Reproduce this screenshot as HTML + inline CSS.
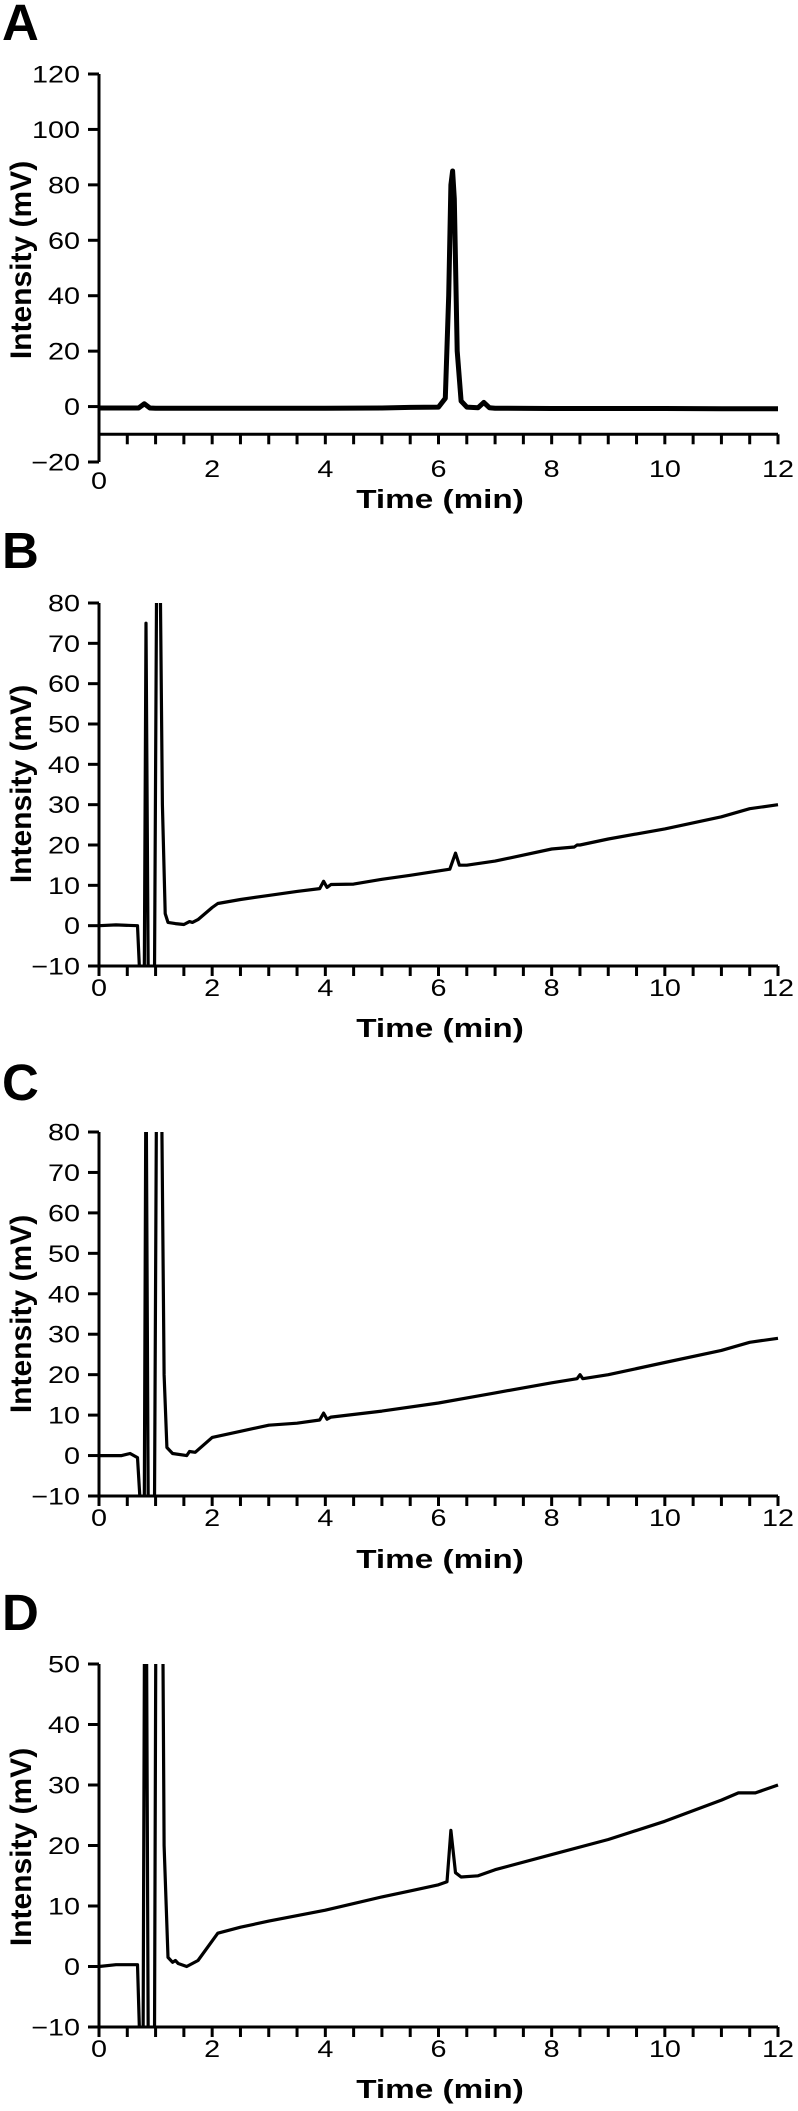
<!DOCTYPE html>
<html><head><meta charset="utf-8"><style>
html,body{margin:0;padding:0;background:#fff;}
svg{display:block;}
text{font-family:"Liberation Sans",Arial,sans-serif;fill:#000;}
</style></head><body>
<svg id="fig" width="798" height="2111" viewBox="0 0 798 2111" xmlns="http://www.w3.org/2000/svg"></svg>
<script>
// Panel A data (time min, intensity mV)
const timesA = [0,0.7,0.8,0.9,1.0,2,3,4,5,5.5,6.0,6.12,6.18,6.22,6.25,6.28,6.33,6.4,6.5,6.7,6.8,6.9,7,8,9,10,11,12];
const valuesA = [-0.5,-0.5,1,-0.5,-0.6,-0.6,-0.6,-0.6,-0.5,-0.3,-0.2,3,40,80,85,75,20,2,-0.2,-0.4,1.5,-0.4,-0.6,-0.7,-0.7,-0.7,-0.8,-0.8];
// Panel B data
const timesB = [0,0.3,0.68,0.72,0.8,0.83,0.87,0.98,1.02,1.08,1.12,1.17,1.22,1.35,1.5,1.6,1.65,1.75,2,2.1,2.5,3,3.5,3.9,3.97,4.03,4.1,4.5,5,5.5,6.2,6.3,6.37,6.5,7,8,8.4,8.45,8.5,9,10,11,11.5,12];
const valuesB = [0,0.2,0,-12,-12,75,-12,-12,90,90,30,3,0.8,0.5,0.3,1,0.8,1.5,4.5,5.5,6.5,7.5,8.5,9.2,11,9.5,10.2,10.3,11.5,12.5,14,18,15,15,16,19,19.5,20,20,21.5,24,27,29,30];
// Panel C data
const timesC = [0,0.4,0.55,0.68,0.73,0.8,0.83,0.87,0.98,1.02,1.1,1.15,1.2,1.3,1.55,1.6,1.7,2,2.5,3,3.5,3.9,3.97,4.03,4.1,5,6,7,8,8.45,8.5,8.55,9,10,11,11.5,12];
const valuesC = [0,0,0.5,-0.5,-12,-12,100,-12,-12,100,100,20,2,0.5,0,1,0.8,4.5,6,7.5,8,8.8,10.5,9,9.5,11,13,15.5,18,19,20,19,20,23,26,28,29];
// Panel D data
const timesD = [0,0.3,0.68,0.72,0.78,0.82,0.87,0.98,1.02,1.1,1.15,1.22,1.3,1.35,1.4,1.55,1.75,2.1,2.5,3,4,5,5.5,6,6.15,6.22,6.3,6.4,6.7,7,8,9,10,11,11.3,11.6,12];
const valuesD = [0,0.3,0.3,-12,-12,100,-12,-12,100,100,20,1.5,0.7,1,0.5,0,1,5.5,6.5,7.5,9.3,11.5,12.5,13.5,14,22.5,15.5,14.8,15,16,18.5,21,24,27.5,28.7,28.7,30];
// Tick labels
const xTickLabels = ["0","2","4","6","8","10","12"];
const yTicksA = [-20,0,20,40,60,80,100,120];
const yTicksBC = [-10,0,10,20,30,40,50,60,70,80];
const yTicksD = [-10,0,10,20,30,40,50];

const NS = "http://www.w3.org/2000/svg";
const svg = document.getElementById('fig');
const X0 = 99, X1 = 778;
function xs(t){ return X0 + (t/12)*(X1-X0); }
function mk(tag, attrs, parent){ const e=document.createElementNS(NS,tag); for(const k in attrs) e.setAttribute(k,attrs[k]); (parent||svg).appendChild(e); return e; }

const panels = [
 {id:'a', letter:'A', letterY:40, times:timesA, vals:valuesA, yTicks:yTicksA, ymin:-20, ymax:120, yTop:74, yBot:462, axisVal:-10, lw:5, tickLblY:477, zeroLblY:489, titleY:508, ytCenter:260},
 {id:'b', letter:'B', letterY:568, times:timesB, vals:valuesB, yTicks:yTicksBC, ymin:-10, ymax:80, yTop:603, yBot:966, axisVal:-10, lw:3.2, tickLblY:996, zeroLblY:996, titleY:1037, ytCenter:784},
 {id:'c', letter:'C', letterY:1100, times:timesC, vals:valuesC, yTicks:yTicksBC, ymin:-10, ymax:80, yTop:1132, yBot:1496, axisVal:-10, lw:3.2, tickLblY:1526, zeroLblY:1526, titleY:1568, ytCenter:1314},
 {id:'d', letter:'D', letterY:1630, times:timesD, vals:valuesD, yTicks:yTicksD, ymin:-10, ymax:50, yTop:1664, yBot:2027, axisVal:-10, lw:3.2, tickLblY:2057, zeroLblY:2057, titleY:2098, ytCenter:1847}
];

panels.forEach(p=>{
  const g = mk('g',{});
  
  
  const ys = v => p.yBot - (v-p.ymin)/(p.ymax-p.ymin)*(p.yBot-p.yTop);
  const axisY = ys(p.axisVal);
  const L = mk('text',{x:0,y:0,'font-size':51,'font-weight':'bold',transform:`translate(2,${p.letterY})`},g);
  L.textContent = p.letter;
  
  
  const cp = mk('clipPath',{id:'clip'+p.id},g);
  mk('rect',{x:X0,y:p.yTop,width:X1-X0+4,height:axisY-p.yTop},cp);
  const pts = p.times.map((t,i)=>xs(t).toFixed(1)+','+ys(p.vals[i]).toFixed(1)).join(' ');
  const line = mk('polyline',{points:pts,fill:'none',stroke:'#000','stroke-width':p.lw,'stroke-linejoin':'round','clip-path':`url(#clip${p.id})`},g);
  
  
  const ya = mk('line',{x1:X0,y1:p.yTop,x2:X0,y2:p.yBot,stroke:'#000','stroke-width':3},g);
  
  
  p.yTicks.forEach(v=>{
    const y = ys(v);
    mk('line',{x1:88,y1:y,x2:X0,y2:y,stroke:'#000','stroke-width':3},g);
    const t = mk('text',{x:0,y:0,'font-size':24,'text-anchor':'end',transform:`translate(80,${y+8.5}) scale(1.2,1)`},g);
    t.textContent = v<0 ? '\u2212'+Math.abs(v) : String(v);
    
    
  });
  const xa = mk('line',{x1:X0-1.5,y1:axisY,x2:X1,y2:axisY,stroke:'#000','stroke-width':3},g);
  
  
  for(let i=0;i<=24;i++){
    const x = xs(i*0.5);
    mk('line',{x1:x,y1:axisY,x2:x,y2:axisY+10,stroke:'#000','stroke-width':3},g);
  }
  xTickLabels.forEach((s,i)=>{
    const x = xs(i*2);
    const yy = i===0 ? p.zeroLblY : p.tickLblY;
    const t = mk('text',{x:0,y:0,'font-size':24,'text-anchor':'middle',transform:`translate(${x},${yy}) scale(1.2,1)`},g);
    t.textContent = s;
    
    
  });
  const xt = mk('text',{x:0,y:0,'font-size':26,'font-weight':'bold','text-anchor':'middle',transform:`translate(440,${p.titleY}) scale(1.28,1)`},g);
  xt.textContent = 'Time (min)';
  
  
  const yt = mk('text',{x:0,y:0,'font-size':30,'font-weight':'bold','text-anchor':'middle',transform:`translate(31,${p.ytCenter}) rotate(-90)`},g);
  yt.textContent = 'Intensity (mV)';
  
  
});
</script>
</body></html>
